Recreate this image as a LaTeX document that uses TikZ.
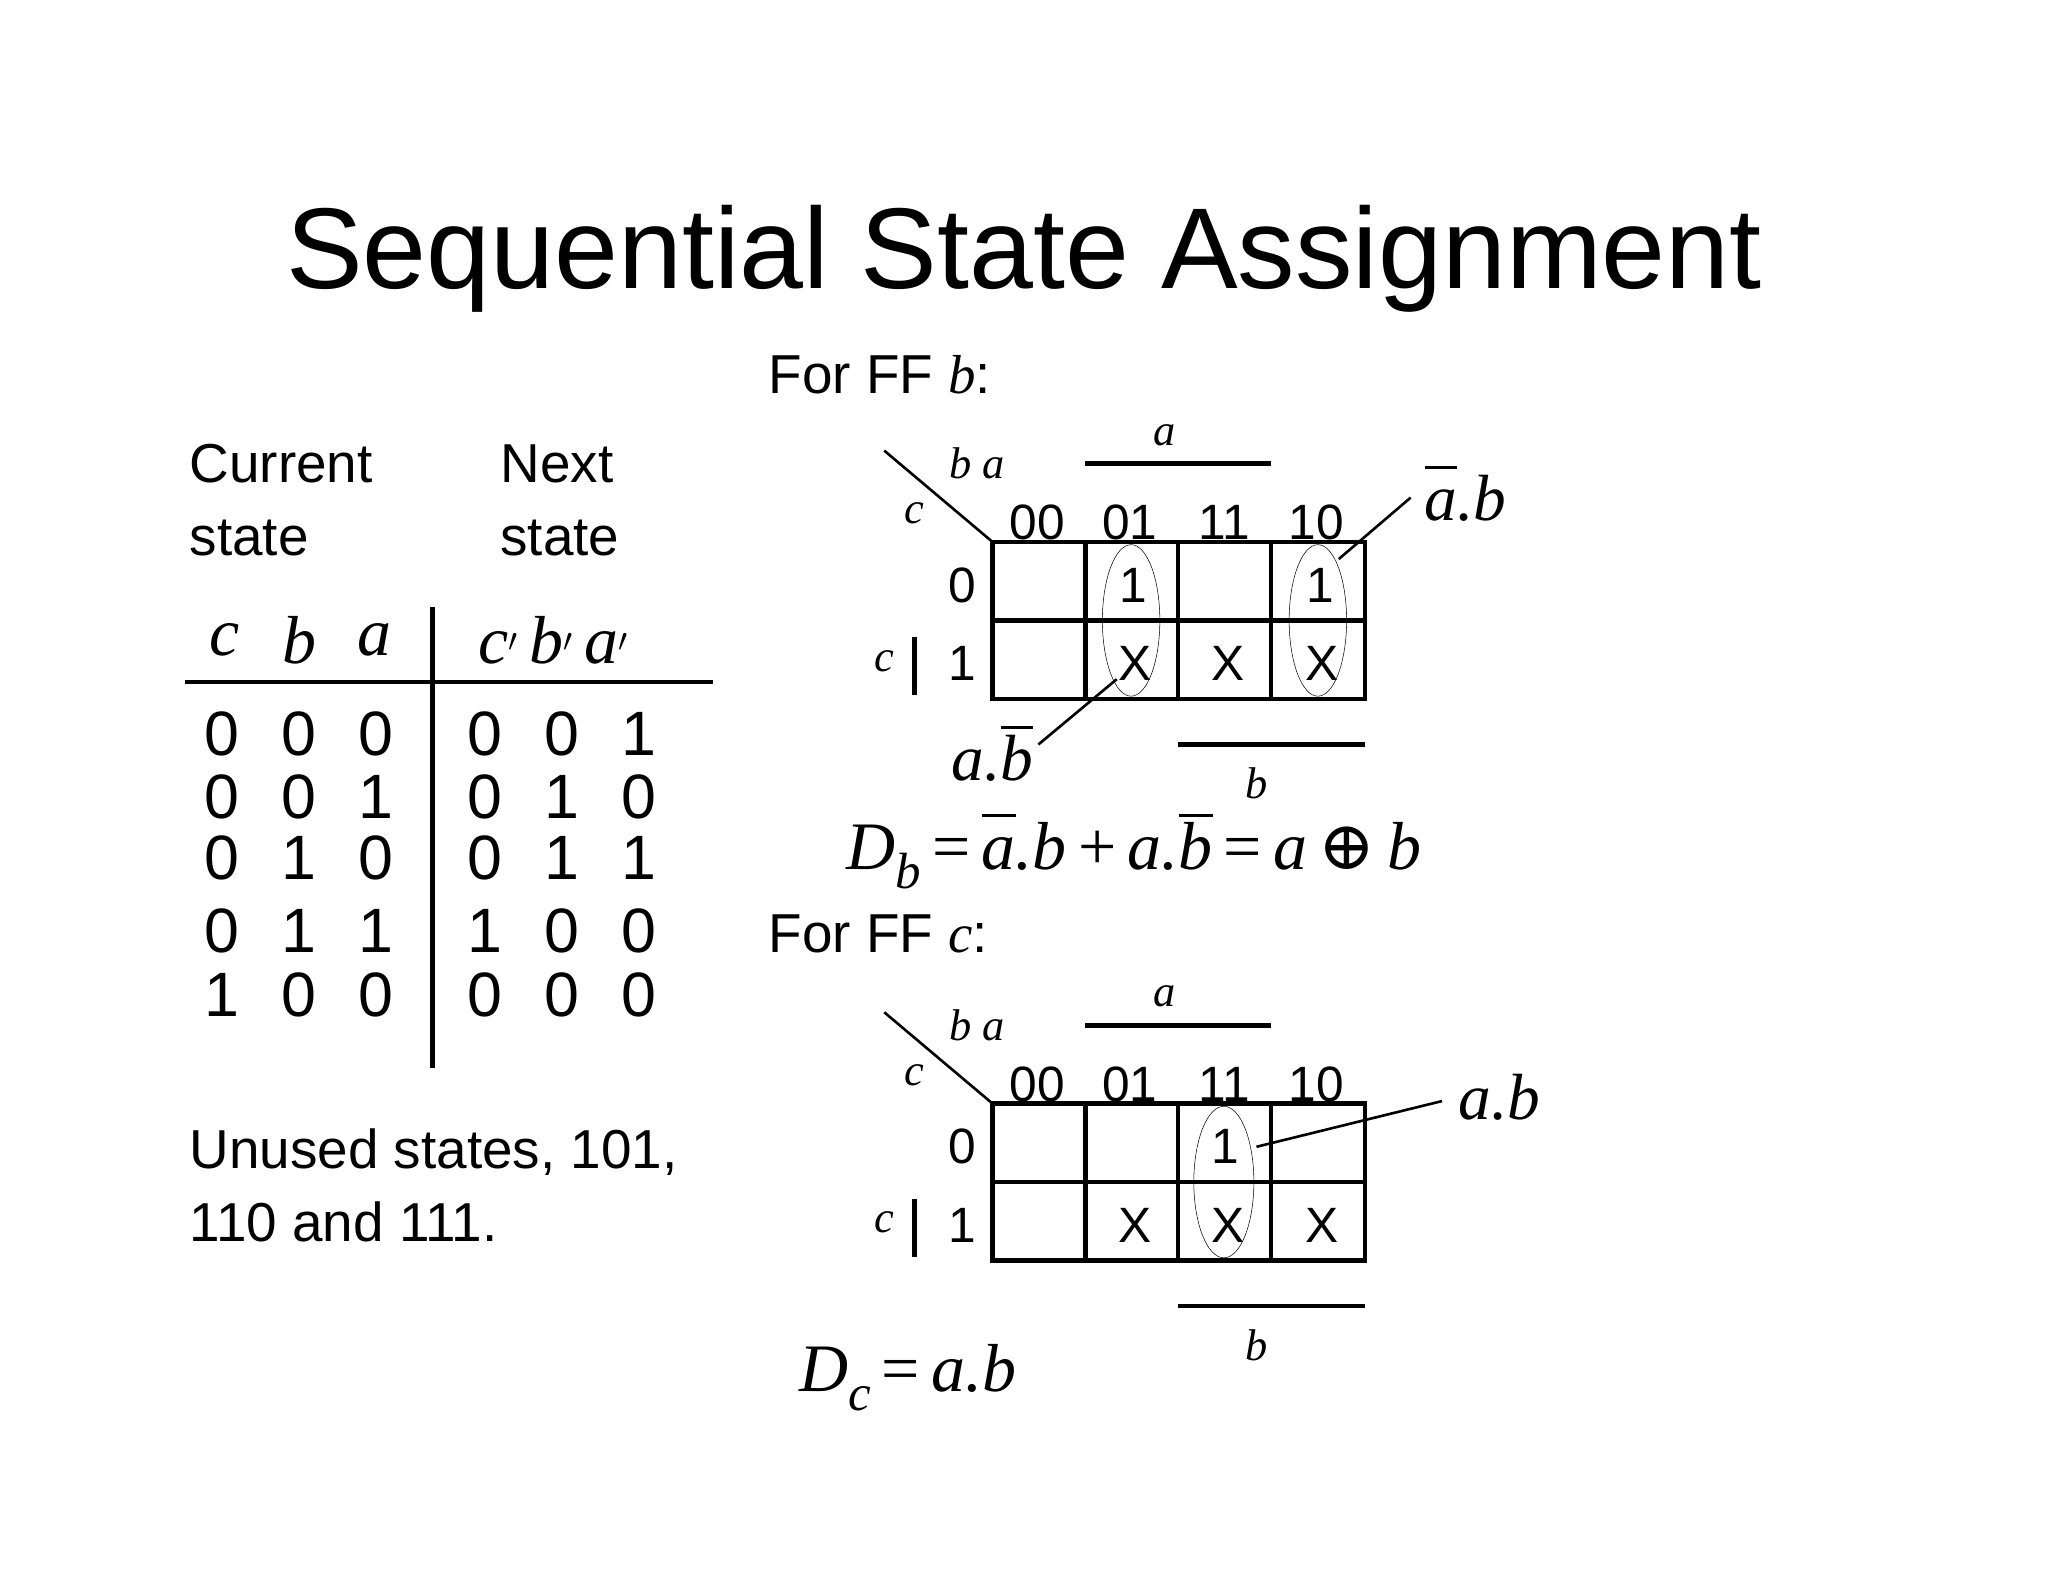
\documentclass[tikz,border=0pt]{standalone}
\usepackage{fontspec}
\setmainfont{Liberation Sans}
\newfontfamily\srf{Liberation Serif}
\newfontfamily\djs{DejaVu Serif}
\newcommand\myob[1]{\setbox0\hbox{#1}\rlap{\rule[0.78em]{\wd0}{0.045em}}\box0}
\newcommand\mysub[1]{\raisebox{-0.28em}{\fontsize{0.75em}{0.75em}\selectfont #1}}
\newcommand\myit{\srf\itshape}
\begin{document}
\begin{tikzpicture}[x=1pt,y=-1pt,
  sz/.style={font=\fontsize{#1}{#1}\selectfont},
  sf/.style={inner sep=0pt,font=\fontsize{#1}{#1}\selectfont\srf\itshape},
  thk/.style={line width=3.5pt},
  thn/.style={line width=2pt},
  cell/.style={inner sep=0pt,font=\fontsize{38}{38}\selectfont}]
\useasboundingbox (0,0) rectangle (1568,1211);
\node[sz=88] (title) at (784,198) {Sequential State Assignment};
% table
\node[sz=42,anchor=north west,align=left,inner sep=0pt] (cur) at (145,340) {Current\\[14pt]state};
\node[sz=42,anchor=north west,align=left,inner sep=0pt] (nxt) at (383,340) {Next\\[14pt]state};
\draw[thk] (331,465) coordinate (vt) -- (331,818) coordinate (vb);
\draw[thk] (142,522) coordinate (hl) -- (546,522) coordinate (hr);
\foreach \t/\x in {c/172,b/229,a/287}{\node[sf=52] (h\t) at (\x,490) {\t};}
\node[sf=52,anchor=west] (pr) at (366,490) {c$'$\,b$'$\,a$'$};
\foreach \y/\a/\b/\c/\d/\e/\f [count=\i] in {562/0/0/0/0/0/1,610/0/0/1/0/1/0,657/0/1/0/0/1/1,713/0/1/1/1/0/0,762/1/0/0/0/0/0}{
  \node[sz=48] (r\i a) at (170,\y) {\a};
  \node[sz=48] (r\i b) at (229,\y) {\b};
  \node[sz=48] (r\i c) at (288,\y) {\c};
  \node[sz=48] (r\i d) at (371,\y) {\d};
  \node[sz=48] (r\i e) at (430,\y) {\e};
  \node[sz=48] (r\i f) at (489,\y) {\f};
}
\node[sz=42,anchor=north west,align=left,inner sep=0pt] (unused) at (145,864) {Unused states, 101,\\[14pt]110 and 111.};
% K-maps
\foreach \o/\n in {0/1,430/2}{
\begin{scope}[yshift=-\o pt]
  \draw[thk] (760,415) rectangle (1045,535);
  \draw[thk] (760,475) -- (1045,475);
  \foreach \x in {831,902,973} \draw[thk] (\x,415) -- (\x,535);
  \draw[thn] (677,345) -- (760,415);
  \node[sf=34] (ba\n) at (748,355) {b a};
  \node[sf=34] (cc\n) at (700,393) {c};
  \foreach \t/\x in {00/794,01/865,11/937,10/1008}{\node[cell] (k\n\t) at (\x,400) {\t};}
  \node[cell] (z\n) at (737,448) {0};
  \node[cell] (o\n) at (737,508) {1};
  \node[sf=34] (cl\n) at (677,506) {c};
  \draw[thk] (700,488) -- (700,532);
  \draw[thk] (831,355) -- (973,355);
  \node[sf=34] (la\n) at (892,333) {a};
  \draw[thk] (902,570) -- (1045,570);
  \node[sf=34] (lb\n) at (962,600) {b};
\end{scope}}
% map 1 contents
\foreach \x/\y/\t [count=\i] in {868/448/1,1011/448/1,869/508/X,940/508/X,1012/508/X}{\node[cell] (m1c\i) at (\x,\y) {\t};}
\draw[thin] (866,475) ellipse [x radius=22,y radius=58];
\draw[thin] (1009,475) ellipse [x radius=22,y radius=58];
\node[sf=50] (abar) at (1122,378) {\myob{a}.b};
\coordinate (abs) at (1080,381);
\draw[thn] (abs) -- (1025,428);
\node[sf=50] (bbar) at (760,577) {a.\myob{b}};
\coordinate (bbs) at (795,570);
\draw[thn] (bbs) -- (855,520);
\node[sf=52] (db) at (868,652) {D\mysub{b}\,\upshape=\,\itshape\myob{a}.b\,\upshape+\,\itshape a.\myob{b}\,\upshape=\,\itshape a\,{\djs\upshape ⊕}\,b};
\node[sz=42,anchor=west] (ffb) at (585,287) {For FF {\myit b}:};
\node[sz=42,anchor=west] (ffc) at (585,715) {For FF {\myit c}:};
% map 2
\foreach \x/\y/\t [count=\i] in {938/878/1,869/938/X,940/938/X,1012/938/X}{\node[cell] (m2c\i) at (\x,\y) {\t};}
\draw[thin] (937,905) ellipse [x radius=23,y radius=58];
\node[sf=50] (ab2) at (1148,840) {a.b};
\coordinate (a2s) at (1104,843);
\draw[thn] (a2s) -- (962,878);
\node[sf=52] (dc) at (695,1055) {D\mysub{c}\,\upshape=\,\itshape a.b};
\end{tikzpicture}
\end{document}
